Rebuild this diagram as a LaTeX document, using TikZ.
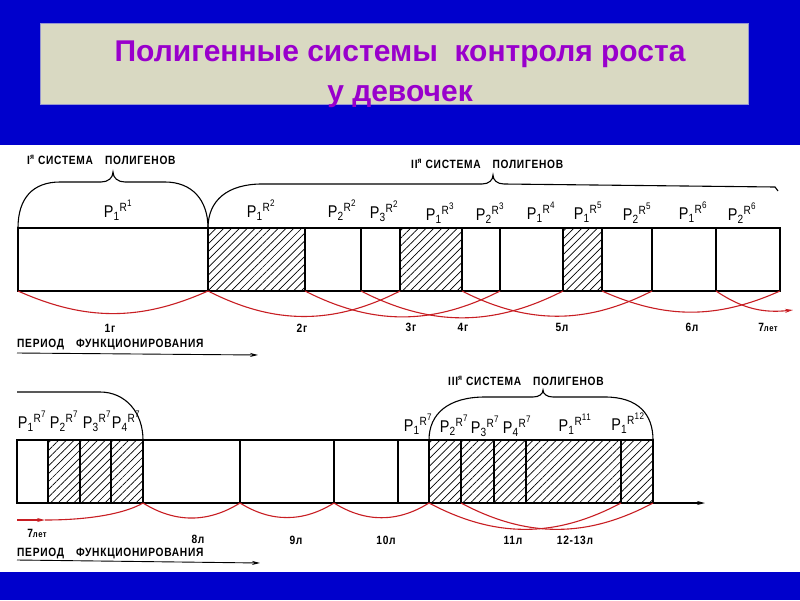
\documentclass[tikz,border=0pt]{standalone}
\usepackage{fontspec}
\setmainfont{Liberation Sans}
\newfontfamily\drawfont[FakeStretch=0.85, LetterSpace=6]{Liberation Sans}
\usetikzlibrary{arrows.meta, patterns.meta}
\definecolor{slideblue}{RGB}{0,0,204}
\definecolor{titlebg}{RGB}{217,217,194}
\definecolor{titleline}{RGB}{150,150,210}
\definecolor{titlefg}{RGB}{153,0,204}
\definecolor{arcred}{RGB}{200,30,35}
\newcommand{\gen}[2]{P\textsubscript{#1}\textsuperscript{R\raisebox{0.4em}{\fontsize{9.5}{9.5}\selectfont#2}}}

\begin{document}
\begin{tikzpicture}[x=1pt, y=-1pt,
  cell/.style={line width=1.1pt},
  hatch/.style={pattern={Lines[angle=45, distance=5.5pt, line width=0.7pt]}},
  period/.style={arcred, line width=1.1pt},
  brace/.style={line width=1.1pt},
  headline/.style={text=titlefg, font=\bfseries\fontsize{30}{30}\selectfont, inner sep=0pt, anchor=base},
  gene/.style={font=\drawfont\fontsize{17}{17}\selectfont, inner sep=0pt},
  yr/.style={font=\drawfont\bfseries\fontsize{12}{12}\selectfont, inner sep=0pt},
  sysname/.style={font=\drawfont\bfseries\fontsize{12}{12}\selectfont, inner sep=0pt, anchor=base west},
  arr/.style={-{Stealth[length=8pt, width=4pt]}, line width=0.9pt}
]
\useasboundingbox (0,0) rectangle (800,600);
\fill[slideblue] (0,0) rectangle (800,600);
\fill[white] (0,145) rectangle (800,572);

% title
\node[draw=titleline, fill=titlebg, line width=0.8pt, minimum width=708pt, minimum height=81pt, inner sep=0pt] (titlebox) at (394,63.5) {};
\node[headline] (head1) at (400,61) {Полигенные системы\ \ контроля роста};
\node[headline] (head2) at (400,101) {у девочек};

% upper row
\foreach \l/\r in {208/305, 400/462, 563/602} \fill[hatch] (\l,228) rectangle (\r,291);
\draw[cell] (18,228) rectangle (780,291);
\foreach \x in {305,361,400,462,500,563,602,652,716} \draw[cell] (\x,228) -- (\x,291);
\draw[line width=2.6pt] (208,228) -- (208,291);
\foreach \x [count=\i] in {18,208,305,361,400,462,500,563,602,652,716,780} \coordinate (t\i) at (\x,291);
\coordinate (tend) at (793,310);

\draw[brace] (18,228) .. controls (18,198) and (33,182) .. (60,182) -- (101,182)
  .. controls (108,182) and (113,178) .. (113,172) .. controls (113,178) and (118,182) .. (125,182)
  -- (165,182) .. controls (192,182) and (208,200) .. (208,228);
\draw[brace] (208,228) .. controls (208,200) and (228,184) .. (262,184) -- (482,184)
  .. controls (489,184) and (493,180) .. (493,175) .. controls (493,180) and (497,184) .. (504,184)
  -- (775,187) -- (778,191);
\node[sysname] (sys1) at (27,164) {I\textsuperscript{я} СИСТЕМА\quad ПОЛИГЕНОВ};
\node[sysname] (sys2) at (411,168) {II\textsuperscript{я} СИСТЕМА\quad ПОЛИГЕНОВ};

\node[gene] (g11) at (118,210) {\gen{1}{1}};
\node[gene] (g12) at (261,210) {\gen{1}{2}};
\node[gene] (g22) at (342,210) {\gen{2}{2}};
\node[gene] (g32) at (384,211) {\gen{3}{2}};
\node[gene] (g13) at (440,213) {\gen{1}{3}};
\node[gene] (g23) at (490,213) {\gen{2}{3}};
\node[gene] (g14) at (541,212) {\gen{1}{4}};
\node[gene] (g15) at (588,212) {\gen{1}{5}};
\node[gene] (g25) at (637,213) {\gen{2}{5}};
\node[gene] (g16) at (693,212) {\gen{1}{6}};
\node[gene] (g26) at (742,213) {\gen{2}{6}};

\draw[period] (t1) to[bend right=24] (t2);
\draw[period] (t2) to[bend right=27] (t5);
\draw[period] (t3) to[bend right=27] (t7);
\draw[period] (t4) to[bend right=27] (t8);
\draw[period] (t6) to[bend right=27] (t10);
\draw[period] (t9) to[bend right=24] (t12);
\draw[period, -{Stealth[length=8pt, width=4pt]}] (t11) to[bend right=20] (tend);

\node[yr] (y1) at (110,328) {1г};
\node[yr] (y2) at (302,328) {2г};
\node[yr] (y3) at (411,327) {3г};
\node[yr] (y4) at (463,327) {4г};
\node[yr] (y5) at (562,327) {5л};
\node[yr] (y6) at (692,327) {6л};
\node[yr] (y7) at (768,327) {7{\fontsize{9}{9}\selectfont лет}};

\node[sysname] (per1) at (17,347) {ПЕРИОД\quad ФУНКЦИОНИРОВАНИЯ};
\coordinate (p1s) at (17,353);
\coordinate (p1e) at (258,355);
\draw[arr] (p1s) -- (p1e);

% lower row
\foreach \l/\r in {48/143, 429/653} \fill[hatch] (\l,440) rectangle (\r,503);
\draw[cell] (17,440) rectangle (653,503);
\foreach \x in {48,80,111,143,240,334,398,429,461,494,526,621} \draw[cell] (\x,440) -- (\x,503);
\foreach \x [count=\i] in {17,48,80,111,143,240,334,398,429,461,494,526,621,653} \coordinate (b\i) at (\x,503);
\coordinate (axend) at (705,503);
\draw[cell, -{Stealth[length=8pt, width=4pt]}] (b14) -- (axend);

\draw[brace] (17,392) -- (100,392) .. controls (125,392) and (143,412) .. (143,440);
\draw[brace] (429,440) .. controls (429,414) and (448,397) .. (485,397) -- (533,397)
  .. controls (539,397) and (543,394) .. (543,390) .. controls (543,394) and (547,397) .. (553,397)
  -- (605,397) .. controls (638,397) and (653,414) .. (653,440);
\node[sysname] (sys3) at (448,385) {III\textsuperscript{я} СИСТЕМА\quad ПОЛИГЕНОВ};

\node[gene] (h17) at (32,421) {\gen{1}{7}};
\node[gene] (h27) at (64,421) {\gen{2}{7}};
\node[gene] (h37) at (97,421) {\gen{3}{7}};
\node[gene] (h47) at (126,421) {\gen{4}{7}};
\node[gene] (k17) at (418,424) {\gen{1}{7}};
\node[gene] (k27) at (454,425) {\gen{2}{7}};
\node[gene] (k37) at (485,426) {\gen{3}{7}};
\node[gene] (k47) at (517,426) {\gen{4}{7}};
\node[gene] (k111) at (575,424) {\gen{1}{11}};
\node[gene] (k112) at (628,423) {\gen{1}{12}};

\coordinate (rs) at (17,520);
\coordinate (rm) at (45,520);
\draw[period, -{Stealth[length=8pt, width=4pt]}] (rs) -- (rm);
\draw[period] (rm) .. controls (95,520) and (128,512) .. (b5);
\draw[period] (b5) to[bend right=32] (b6);
\draw[period] (b6) to[bend right=32] (b7);
\draw[period] (b7) to[bend right=32] (b9);
\draw[period] (b9) to[bend right=28] (b13);
\draw[period] (b10) to[bend right=28] (b14);

\node[yr] (z7) at (37,533) {7{\fontsize{9}{9}\selectfont лет}};
\node[yr] (z8) at (198,539) {8л};
\node[yr] (z9) at (296,540) {9л};
\node[yr] (z10) at (386,540) {10л};
\node[yr] (z11) at (513,540) {11л};
\node[yr] (z12) at (575,540) {12-13л};

\node[sysname] (per2) at (17,556) {ПЕРИОД\quad ФУНКЦИОНИРОВАНИЯ};
\coordinate (p2s) at (17,560);
\coordinate (p2e) at (260,563);
\draw[arr] (p2s) -- (p2e);
\end{tikzpicture}
\end{document}
